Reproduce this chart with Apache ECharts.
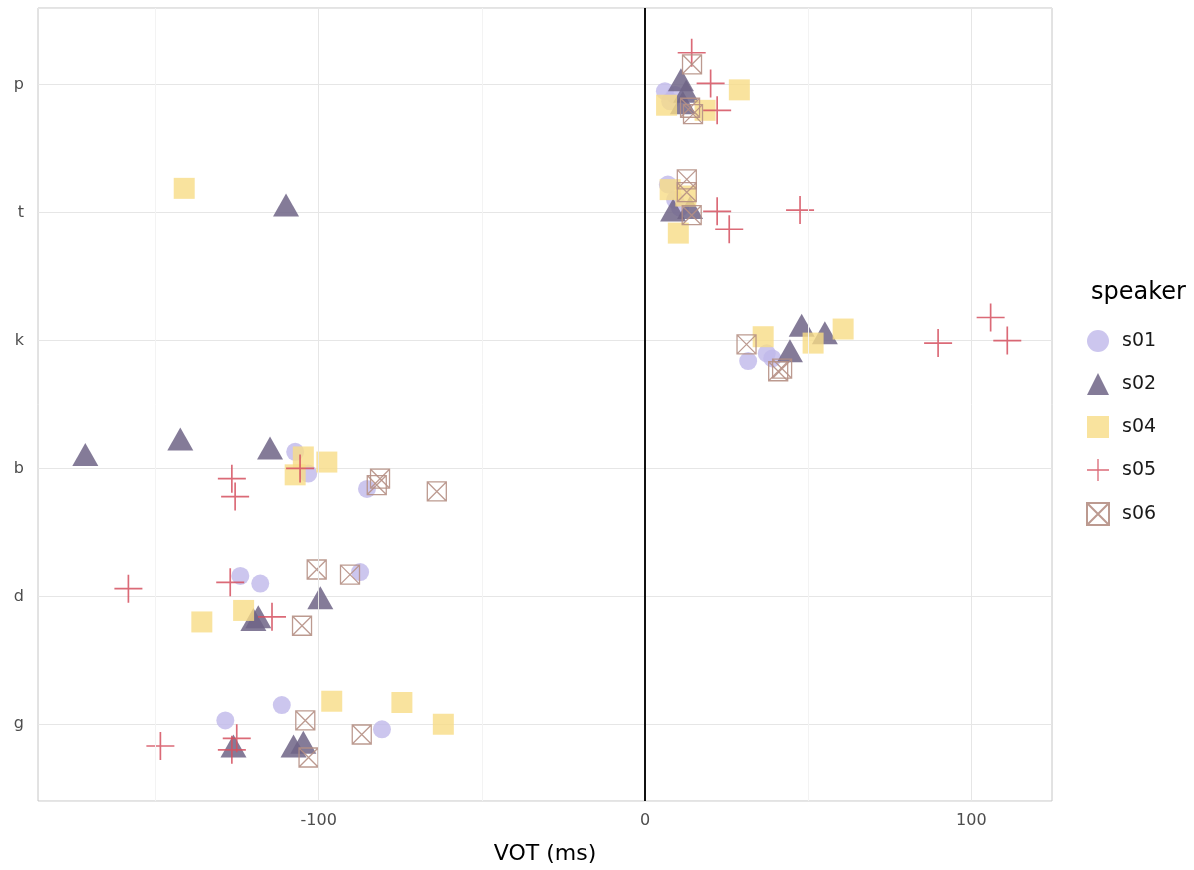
<!DOCTYPE html>
<html><head><meta charset="utf-8">
<script src="https://cdn.jsdelivr.net/npm/echarts@6/dist/echarts.min.js"></script>
<style>html,body{margin:0;padding:0;background:#fff}#c{width:1194px;height:870px}</style>
</head><body><div id="c"></div>
<script>
// y positions: g=1, d=2, b=3, k=4, t=5, p=6 (points are jittered around them)
const categories = ['g', 'd', 'b', 'k', 't', 'p'];
const speakers = ['s01', 's02', 's04', 's05', 's06'];
const xMajorTicks = [-100, 0, 100];
const xMinorTicks = [-150, -50, 50];
const legendTitle = 'speaker';
const xTitle = 'VOT (ms)';

// [VOT (ms), jittered y position]
const s01 = [
  [6.1,5.95],[7.7,5.87],[9.2,5.92],
  [7.0,5.22],[9.2,5.10],[10.7,5.04],
  [31.6,3.84],[37.3,3.90],[39.0,3.86],
  [-107.2,3.13],[-103.2,2.96],[-85.2,2.84],
  [-124.0,2.16],[-117.9,2.10],[-87.3,2.19],
  [-128.6,1.03],[-111.3,1.15],[-80.6,0.96]
];
const s02 = [
  [11.0,6.04],[12.6,5.95],[11.6,5.86],
  [-110.0,5.06],[8.6,5.02],[13.8,5.04],
  [48.0,4.12],[55.1,4.06],[44.4,3.92],
  [-171.5,3.11],[-142.4,3.23],[-114.9,3.16],
  [-120.0,1.82],[-99.5,1.99],[-118.5,1.84],
  [-126.1,0.83],[-107.7,0.83],[-104.7,0.86]
];
const s04 = [
  [28.9,5.96],[6.6,5.84],[18.4,5.80],
  [-141.2,5.19],[7.7,5.18],[12.5,5.13],[10.2,4.84],
  [36.2,4.03],[51.5,3.98],[60.7,4.09],
  [-104.7,3.09],[-97.5,3.05],[-107.2,2.95],
  [-135.8,1.80],[-123.0,1.89],
  [-96.0,1.18],[-74.5,1.17],[-61.8,1.00]
];
const s05 = [
  [14.3,6.25],[20.1,6.01],[22.1,5.80],
  [22.1,5.01],[25.8,4.87],[47.5,5.02],
  [89.8,3.98],[105.9,4.18],[111.0,4.00],
  [-126.6,2.92],[-125.6,2.78],[-105.7,3.00],
  [-158.3,2.06],[-127.1,2.11],[-114.3,1.84],
  [-148.5,0.83],[-125.1,0.89],[-126.6,0.80]
];
const s06 = [
  [14.4,6.16],[13.8,5.82],[14.7,5.77],
  [12.8,5.26],[12.8,5.16],[14.3,4.98],
  [31.1,3.97],[40.8,3.76],[42.0,3.78],
  [-81.2,2.92],[-82.2,2.87],[-63.8,2.82],
  [-100.6,2.21],[-90.4,2.17],[-105.1,1.77],
  [-104.1,1.03],[-103.1,0.74],[-86.8,0.92]
];

const plusPath = 'path://M4.7,0H5.3V4.7H10V5.3H5.3V10H4.7V5.3H0V4.7H4.7Z';
const boxXPath = 'path://M0,0H10V10H0Z M0,0L10,10 M10,0L0,10';

const chart = echarts.init(document.getElementById('c'), null, {renderer: 'canvas'});
const font = 'DejaVu Sans';

chart.setOption({
  animation: false,
  backgroundColor: '#fff',
  textStyle: {fontFamily: font},
  grid: {left: 38, right: 142, top: 8, bottom: 67, show: true, borderColor: '#c6c6c6', borderWidth: 1, containLabel: false},
  xAxis: {
    type: 'value', min: -186, max: 124.7,
    axisLine: {show: false}, axisTick: {show: false},
    splitLine: {show: false},
    axisLabel: {margin: 12, fontSize: 16, color: '#4d4d4d', fontFamily: font,
      formatter: v => xMajorTicks.includes(Math.round(v)) && Math.abs(v - Math.round(v)) < 1e-6 ? String(Math.round(v)) : ''},
    name: xTitle, nameLocation: 'middle', nameGap: 42,
    nameTextStyle: {fontSize: 22, color: '#000', fontFamily: font}
  },
  yAxis: {
    type: 'value', min: 0.4, max: 6.6,
    axisLine: {show: false}, axisTick: {show: false},
    splitLine: {show: true, lineStyle: {color: '#e6e6e6', width: 1}},
    axisLabel: {margin: 14, fontSize: 16, color: '#4d4d4d', fontFamily: font,
      formatter: v => {
        const i = Math.round(v);
        return Math.abs(v - i) < 1e-6 && i >= 1 && i <= 6 ? categories[i - 1] : '';
      }}
  },
  legend: {
    data: speakers, orient: 'vertical', left: 1081, top: 325,
    itemWidth: 22, itemHeight: 22, itemGap: 21,
    textStyle: {fontSize: 19, color: '#1a1a1a', fontFamily: font, padding: [0, 0, 0, 8]}
  },
  graphic: [{
    type: 'text', left: 1091, top: 281,
    style: {text: legendTitle, fontSize: 24, fill: '#000', fontFamily: font}
  }],
  series: [
    {
      name: 'grid', type: 'scatter', data: [], z: 0, silent: true,
      markLine: {
        silent: true, symbol: 'none', label: {show: false}, animation: false,
        data: [
          ...xMinorTicks.map(v => ({xAxis: v, lineStyle: {color: '#f3f3f3', width: 1, type: 'solid'}})),
          ...xMajorTicks.map(v => ({xAxis: v, lineStyle: {color: '#e6e6e6', width: 1, type: 'solid'}}))
        ]
      }
    },
    {
      name: 's01', type: 'scatter', data: s01, symbol: 'circle', symbolSize: 18, z: 2,
      itemStyle: {color: '#bfb8ea', opacity: 0.8}
    },
    {
      name: 's02', type: 'scatter', data: s02, symbol: 'triangle', symbolSize: [26, 23], z: 2,
      itemStyle: {color: '#6f6486', opacity: 0.85}
    },
    {
      name: 's04', type: 'scatter', data: s04, symbol: 'rect', symbolSize: 21, z: 2,
      itemStyle: {color: '#f8dc86', opacity: 0.8}
    },
    {
      name: 's05', type: 'scatter', data: s05, symbol: plusPath, symbolSize: 28, z: 2,
      itemStyle: {color: '#d5505f', opacity: 0.85}
    },
    {
      name: 's06', type: 'scatter', data: s06, symbol: boxXPath, symbolSize: 19, z: 2,
      itemStyle: {color: 'rgba(0,0,0,0)', borderColor: '#b58f84', borderWidth: 1.3, opacity: 0.9}
    },
    {
      name: 'zero', type: 'scatter', data: [], z: 3, silent: true,
      markLine: {
        silent: true, symbol: 'none', label: {show: false}, animation: false,
        data: [{xAxis: 0, lineStyle: {color: '#111', width: 2, type: 'solid'}}]
      }
    }
  ]
});
</script>
</body></html>
